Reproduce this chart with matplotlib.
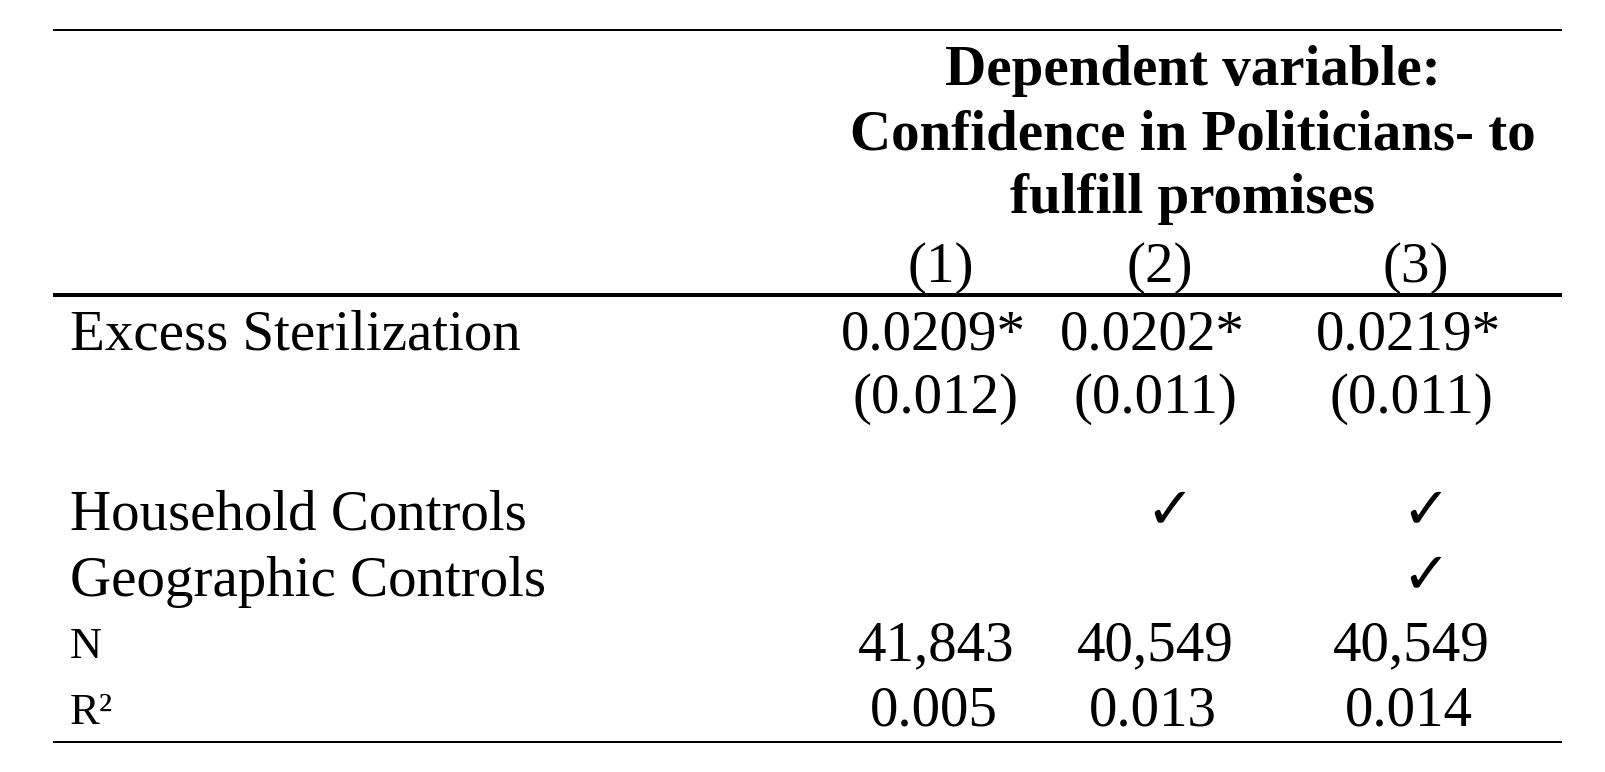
import matplotlib
matplotlib.use("Agg")
import matplotlib.pyplot as plt

# ---- data ----
header_lines = ["Dependent variable:", "Confidence in Politicians- to", "fulfill promises"]
col_labels = ["(1)", "(2)", "(3)"]
coef_label = "Excess Sterilization"
coefs = ["0.0209*", "0.0202*", "0.0219*"]
ses = ["(0.012)", "(0.011)", "(0.011)"]
household_controls = [False, True, True]
geographic_controls = [False, False, True]
n_obs = ["41,843", "40,549", "40,549"]
r2 = ["0.005", "0.013", "0.014"]
row_labels = ["Household Controls", "Geographic Controls", "N", "R²"]

W, H = 1606, 772
fig = plt.figure(figsize=(W / 100, H / 100), dpi=100)
ax = fig.add_axes([0, 0, 1, 1])
ax.set_xlim(0, W)
ax.set_ylim(H, 0)
ax.axis("off")

serif = ["Liberation Serif", "DejaVu Serif"]
FS = 41
FS_SMALL = 32
col_x = [936, 1155, 1411]
left_x = 70
x0, x1 = 53, 1562

def px(lw):
    return lw * 72 / 100

# rules
ax.plot([x0, x1], [30, 30], color="black", lw=px(2), solid_capstyle="butt")
ax.plot([x0, x1], [295, 295], color="black", lw=px(4), solid_capstyle="butt")
ax.plot([x0, x1], [742, 742], color="black", lw=px(2), solid_capstyle="butt")

# header
for yb, line in zip([85, 150, 213], header_lines):
    ax.text(1193, yb, line, family=serif, fontsize=41, fontweight="bold",
            ha="center", va="baseline")
for x, lab in zip(col_x, col_labels):
    ax.text(x + 5, 282, lab, family=serif, fontsize=FS, ha="center", va="baseline")

# coefficient rows
ax.text(left_x, 349, coef_label, family=serif, fontsize=FS, ha="left", va="baseline")
for x, c, s in zip(col_x, coefs, ses):
    ax.text(x - 3, 349, c, family=serif, fontsize=FS, ha="center", va="baseline")
    ax.text(x, 413, s, family=serif, fontsize=FS, ha="center", va="baseline")

# controls
ax.text(left_x, 530, row_labels[0], family=serif, fontsize=FS, ha="left", va="baseline")
ax.text(left_x, 596, row_labels[1], family=serif, fontsize=FS, ha="left", va="baseline")
for x, hc, gc in zip(col_x, household_controls, geographic_controls):
    if hc:
        ax.text(x + 15, 527, "✓", family=["DejaVu Sans"], fontsize=42,
                fontweight="bold", ha="center", va="baseline")
    if gc:
        ax.text(x + 15, 592, "✓", family=["DejaVu Sans"], fontsize=42,
                fontweight="bold", ha="center", va="baseline")

# N and R2
ax.text(left_x, 658, row_labels[2], family=serif, fontsize=FS_SMALL, ha="left", va="baseline")
ax.text(left_x, 724, row_labels[3], family=serif, fontsize=FS_SMALL, ha="left", va="baseline")
for x, n, r in zip(col_x, n_obs, r2):
    ax.text(x, 660, n, family=serif, fontsize=FS, ha="center", va="baseline")
    ax.text(x - 2, 725, r, family=serif, fontsize=FS, ha="center", va="baseline")

fig.savefig("out.png", dpi=100, facecolor="white")
